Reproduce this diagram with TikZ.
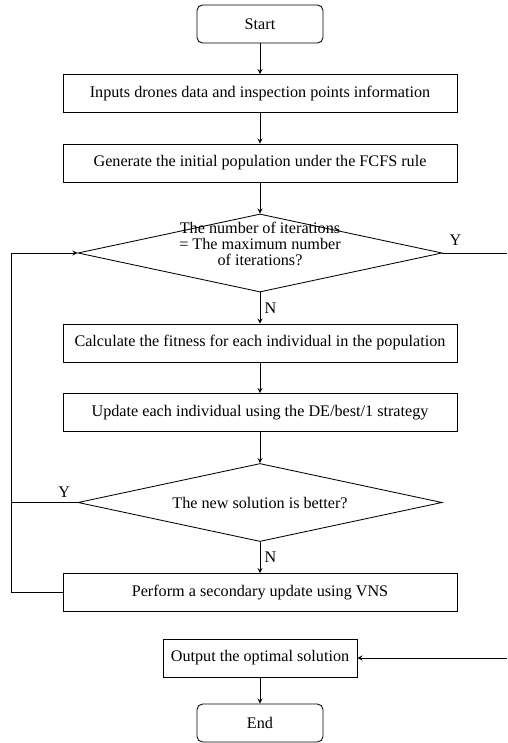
\documentclass[tikz,border=0pt]{standalone}
\usepackage{fontspec}
\setmainfont{Liberation Serif}
\usetikzlibrary{shapes.geometric}

\begin{document}
\begin{tikzpicture}[x=0.025cm,y=-0.025cm,
      box/.style={rectangle,draw,minimum width=9.85cm,minimum height=0.95cm,
                  align=center,font=\fontsize{11.5}{12}\selectfont},
      term/.style={rectangle,draw,rounded corners=4pt,
                  minimum width=3.15cm,minimum height=0.95cm,
                  font=\fontsize{11.5}{12}\selectfont},
      decision/.style={diamond,draw,inner sep=0pt,
                  minimum width=9.1cm,minimum height=1.95cm},
      txt/.style={align=center,inner sep=0pt,font=\fontsize{11.5}{11.4}\selectfont},
      arr/.style={->,>=stealth},
      line width=0.6pt]
    \useasboundingbox (0,0) rectangle (507,743);
    \node[term]  (start) at (260,24) {Start};
    \node[box]   (input) at (260,93.5) {Inputs drones data and inspection points information};
    \node[box]   (init) at (260,163) {Generate the initial population under the FCFS rule};
    \node[decision] (iter) at (260,253) {};
    \node[txt]   (itertxt) at (260,244) {The number of iterations\\= The maximum number\\of iterations?};
    \node[box]   (fit) at (260,343) {Calculate the fitness for each individual in the population};
    \node[box]   (upd) at (260,412.5) {Update each individual using the DE/best/1 strategy};
    \node[decision] (better) at (260,502.5) {};
    \node[txt]   (bettertxt) at (260,502.5) {The new solution is better?};
    \node[box]   (vns) at (260,592.5) {Perform a secondary update using VNS};
    \node[box,minimum width=4.85cm] (out) at (260,658) {Output the optimal solution};
    \node[term]  (stop) at (260,723) {End};

    \coordinate (loopL) at (11,253);
    \coordinate (exitR) at (507,253);
    \coordinate (backR) at (507,658);

    \draw[arr] (start) -- (input);
    \draw[arr] (input) -- (init);
    \draw[arr] (init) -- (iter.north);
    \draw[arr] (iter.south) -- node[right,txt,xshift=3pt] (n1) {N} (fit);
    \draw[arr] (fit) -- (upd);
    \draw[arr] (upd) -- (better.north);
    \draw[arr] (better.south) -- node[right,txt,xshift=3pt] (n2) {N} (vns);
    \draw (better.west) -- node[above,txt,pos=0.2,yshift=3pt] (y2) {Y} (better.west -| loopL);
    \draw[arr] (vns.west) -| (loopL) -- (iter.west);
    \draw (iter.east) -- node[above,txt,pos=0.2,yshift=5pt] (y1) {Y} (exitR);
    \draw[arr] (backR) -- (out);
    \draw[arr] (out) -- (stop);
  \end{tikzpicture}
\end{document}
